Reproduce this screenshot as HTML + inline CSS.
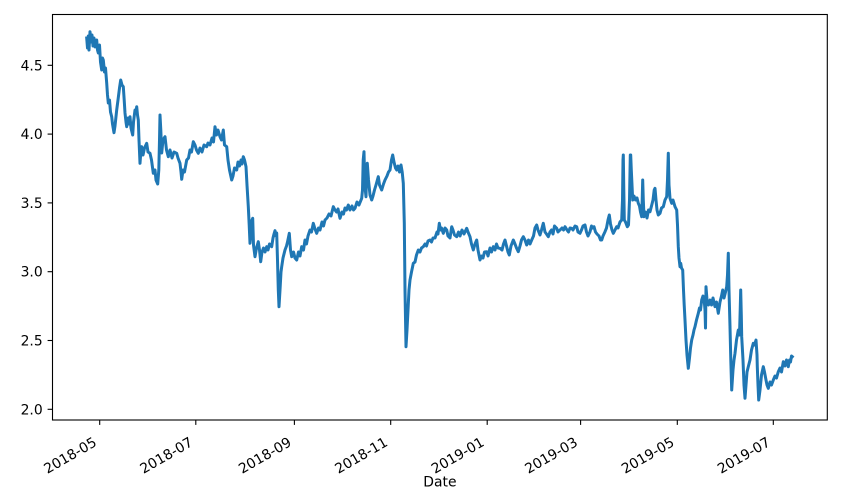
<!DOCTYPE html>
<html><head><meta charset="utf-8"><style>
html,body{margin:0;padding:0;background:#fff;}
svg{display:block;}
text{font-family:"DejaVu Sans","Liberation Sans",sans-serif;font-size:13.9px;fill:#000;}
</style></head><body>
<svg width="852" height="496" viewBox="0 0 852 496" xmlns="http://www.w3.org/2000/svg">
<rect width="852" height="496" fill="#fff"/>
<polyline fill="none" stroke="#1f77b4" stroke-width="3.0" stroke-linejoin="round" stroke-linecap="square" points="
86.7,38 87.5,48 88.3,36 89,50 90,31.7 91,42 92,35 93,46 94,38 95,47 96.7,40 97.5,50 98.3,53 99.5,45 100.5,62 101.7,70 102.5,58 103.3,60 104.5,72 105.5,68 106.7,83 107.5,95 108.3,103 109.5,100 110.5,112 111.7,116.7 112.5,124 114,132.7 115,126 116.7,110 118,100 119.5,88 120.7,80 122,85 123.3,86.7 124.2,100 125,113 126,122 126.7,126.7 128,118 129,124 130,116.7 131,128 132.7,135 133.5,122 135,110 136,112 136.7,106.7 137.5,115 138.3,120 139,140 140,163.3 141,150 141.7,146.7 143,155 144.5,148 146.7,143.3 148,152 150,153.3 151.5,160 153.3,173.3 155,170 156,180 157.7,184 158.8,170 159.5,140 160,115 160.8,130 161.7,153 163,140 165,136.7 166.5,150 168.3,156.7 170,150 172,158 174,152 176.7,153.3 178,158 180,163.3 181,172 181.7,179.3 183,170 184.5,172 186.7,160 188.5,158 190,150 191.5,152 193.3,141.7 195,145 196.5,150 198.3,153.3 200,148 202,152 204,145 206.7,146.7 208,143 210,145 212,138 213.5,142 215,126.7 216.5,135 218,130 220,136.7 221.5,140 223.3,130 224.5,145 226.7,146.7 228,160 229.5,170 231.7,180 233,176 234.5,168 236.7,170 238,162 239.5,166 241,160 242,164 243.3,156.7 244.5,160 246,166.7 247,185 248.3,206.7 249.2,225 250,243.3 251,232 252,220 252.7,218.3 253.5,245 255,256.7 256.5,248 258.3,241.7 259.5,250 260.7,261.7 262,252 263.5,248 265,252 266.7,246.7 268,250 269.5,244 271.7,246.7 273,238 274,234 275,230.7 276,236 276.7,233 277.5,260 278.3,290 279,306.7 280,290 281,272 281.7,266.7 283,258 285,250 286.5,246 287.5,242 289.3,233.3 290.5,250 291.7,256.7 293.5,252 295,258 296.7,260 298.5,252 300,256 301.7,246.7 303.5,250 305,240 306.5,244 308,236 310,230 311.5,232 313.3,223.3 315,229 316.7,233.3 318.5,228 320,230 322,222 323.5,226 325,220 327,218 329,214 331,216 333.3,206.7 335,210 336.5,212 338,209 340,218.3 342,212 343.5,214 345,208 346.5,210 348.3,205 350,210 352,206 353.5,210 355,208.3 357,202 359,205 361.7,198.3 362.5,190 363.2,160 364,151.7 364.8,185 366,196.7 366.7,170 367.3,163.3 368.5,180 370,195 371.7,200 373,196 374.5,190 376,185 378.3,176.7 379.5,185 381.7,190 383.5,184 385,180 387,176 388.5,172 390,170 391.5,160 392.7,155 394,162 395.5,168 396.7,170 398,166 399.5,172 401,165 402.2,172 403.3,183.3 404.3,223.3 405,290 406,346.7 407,330 408,310 409,290 410,280 411.5,272 413.3,263.3 415,262 416.5,255 418.3,250 420,252 421.5,248 423.3,246.7 425,244 426.5,246 428,241 430,240 431.5,242 433,238 435,238 437,232 438,234 439.3,223.3 440.5,230 441.5,228 443.3,233.3 445,228 446.7,230 448,236 450,238 451.7,226.7 453,230 454.5,235 456.7,236.7 458.5,232 460,236 462,230 464,234 466.7,228.3 468,232 470,236.7 471.5,244 473.3,250 475,244 476.7,240 478,250 480,260 481.5,256 483,258 484.5,252 486.7,251.7 488,256 490,248 491.5,252 493.3,246.7 495,250 496.5,244 498,248 500,248.3 502,250 503.5,244 505,240 506.5,246 508,252 509.3,255 511,246 513.3,240 515,244 516.5,248 518.3,251.7 520,246 521.5,240 523.3,236.7 525,240 526.7,245 528.5,240 530,244 531.7,240 533.5,236 535,228 536.7,225 538,230 540,235 541.5,230 543.3,223.3 545,232 546.5,234 548.3,236.7 550,232 551.5,230 553,234 554.5,226 556.7,228.3 558,232 560,230 562,228 563.5,230 565,226.7 567,230 568.5,232 570,228 571.7,228.3 573,230 575,226 576.7,226.7 578,232 580,233.3 581.5,230 583,226 585,225 586.5,232 588,236 590,231.7 591.5,226 592.5,228 594,226.7 595.5,232 597,234 599,236 600.5,240 601.7,240 603,236 605,231.7 606.5,228 608,220 609.3,215 610.5,224 612,230 613.3,233.3 615,230 616.7,226.7 618,228 620,222 621.7,220 622.5,200 623,160 623.3,155 623.8,190 624.3,220 625.5,222 627.3,226.7 628.5,225 629.5,200 630.3,155 630.7,155 631.3,170 632.7,200 634,196 635.5,200 637,198 638.3,203.3 639.5,206 640.5,212 641.7,216.7 642.2,200 642.7,180 643.3,200 644,216.7 645.5,212 647,218 648.5,210 650,211.7 651.5,206 653,200 654.2,190 655,188.3 656,200 657,210 658.3,215 660,213.3 661.5,208 663.3,206.7 665,200 666.7,196.7 667.5,180 668.3,153.3 669,185 670,198.3 671.7,203.3 673,200 675,206.7 676.7,210 677.5,225 678.3,246.7 679,258 680,266.7 680.7,263.3 681.5,268 682.7,270 683.5,290 684.2,305 685,320 686,340 687,355 688.3,368.3 689.5,358 690.5,348 691.7,340 693,335 694,330 695,326.7 696.5,320 698.3,313.3 699.5,308 700.5,310 701.7,300 703,296 704,298 705,310 705.5,328 706,286.7 707,300 708.5,305 710,300 711.5,305 713,298 715,306.7 716.5,302 718.3,313.3 720,302 721.5,296 722.7,290 724,298 725.5,292 726.7,286.7 727.5,275 728.3,253.3 729,290 730,326.7 730.8,360 731.7,390 733,370 734,360 735,353.3 736.5,340 738.3,330 739.5,335 740.2,310 740.7,290 741.3,315 741.7,336.7 743,360 744,385 745,398.3 746,385 747,372 748.3,366.7 750,360 751.5,350 753.3,343.3 754.5,345 756,340 757,355 757.3,366.7 758,385 758.7,400 760,390 761.5,375 763.3,366.7 764.5,372 766,380 767,385 768.3,388.3 770,382 771.5,385 773.3,380 775,376 776.5,378 778.3,371.7 780,368 781.5,372 783.3,361.7 785,366 786.5,360 788.3,366.7 789.5,360 790.5,362 791.5,356 792.3,356.7"/>
<rect x="52.5" y="14.5" width="774.8" height="405.5" fill="none" stroke="#000" stroke-width="1.1"/>
<g stroke="#000" stroke-width="1.1">
<line x1="47.6" y1="409.3" x2="52.5" y2="409.3"/>
<line x1="47.6" y1="340.5" x2="52.5" y2="340.5"/>
<line x1="47.6" y1="271.7" x2="52.5" y2="271.7"/>
<line x1="47.6" y1="202.9" x2="52.5" y2="202.9"/>
<line x1="47.6" y1="134.1" x2="52.5" y2="134.1"/>
<line x1="47.6" y1="65.3" x2="52.5" y2="65.3"/>
<line x1="99.7" y1="420" x2="99.7" y2="424.9"/>
<line x1="195.8" y1="420" x2="195.8" y2="424.9"/>
<line x1="294.4" y1="420" x2="294.4" y2="424.9"/>
<line x1="390.7" y1="420" x2="390.7" y2="424.9"/>
<line x1="487.2" y1="420" x2="487.2" y2="424.9"/>
<line x1="580.6" y1="420" x2="580.6" y2="424.9"/>
<line x1="677.3" y1="420" x2="677.3" y2="424.9"/>
<line x1="773.3" y1="420" x2="773.3" y2="424.9"/>
</g>
<g text-anchor="end">
<text x="42.7" y="414.3">2.0</text>
<text x="42.7" y="345.5">2.5</text>
<text x="42.7" y="276.7">3.0</text>
<text x="42.7" y="207.9">3.5</text>
<text x="42.7" y="139.1">4.0</text>
<text x="42.7" y="70.3">4.5</text>
<text transform="translate(97.7,445) rotate(-30)">2018-05</text>
<text transform="translate(193.8,445) rotate(-30)">2018-07</text>
<text transform="translate(292.4,445) rotate(-30)">2018-09</text>
<text transform="translate(388.7,445) rotate(-30)">2018-11</text>
<text transform="translate(485.2,445) rotate(-30)">2019-01</text>
<text transform="translate(578.6,445) rotate(-30)">2019-03</text>
<text transform="translate(675.3,445) rotate(-30)">2019-05</text>
<text transform="translate(771.3,445) rotate(-30)">2019-07</text>
</g>
<text x="439.9" y="486.6" text-anchor="middle">Date</text>
</svg>
</body></html>
